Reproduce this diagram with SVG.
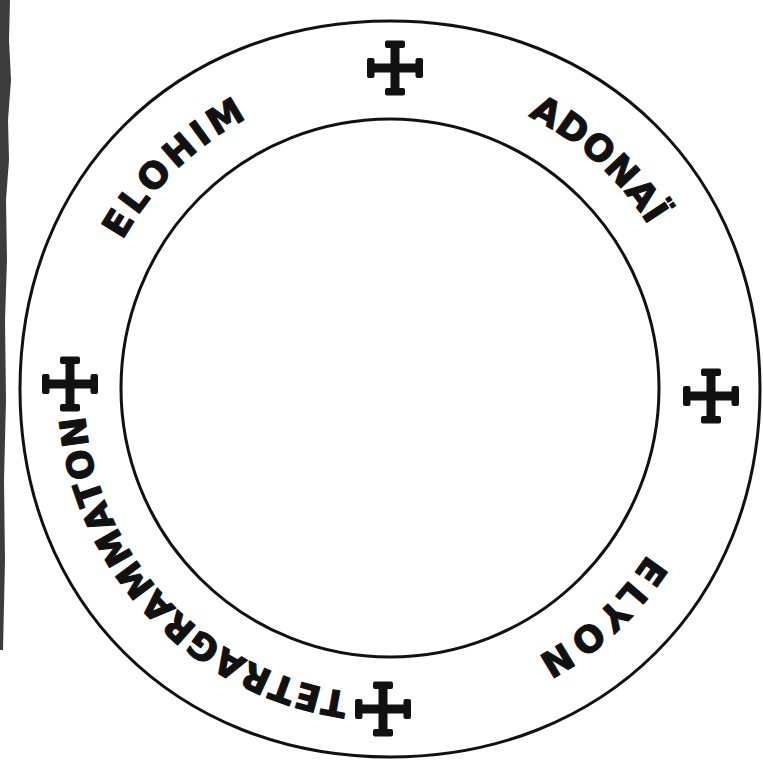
<svg xmlns="http://www.w3.org/2000/svg" xmlns:xlink="http://www.w3.org/1999/xlink" width="763" height="762" viewBox="0 0 763 762">
  <style>
    .ring { fill: none; stroke: #111; stroke-width: 3; }
    .name { font-family: "DejaVu Sans", "Liberation Sans", sans-serif; font-weight: bold; font-size: 36px; fill: #111; stroke: #111; stroke-width: 1.2; stroke-linejoin: round; }
    .cross rect { fill: #111; }
  </style>
  <defs>
    <path id="textCircle" d="M 696 389 A 306 306 0 1 1 84 389 A 306 306 0 1 1 696 389"/>
    <g id="crossShape" class="cross">
      <rect x="-4.5" y="-26" width="9" height="52" rx="1.5"/>
      <rect x="-27" y="-4.5" width="54" height="9" rx="1.5"/>
      <rect x="-10" y="-27.5" width="20" height="7.5" rx="2"/>
      <rect x="-10" y="20" width="20" height="7.5" rx="2"/>
      <rect x="-28" y="-10" width="7.5" height="20" rx="2"/>
      <rect x="20.5" y="-10" width="7.5" height="20" rx="2"/>
    </g>
  </defs>
  <rect width="763" height="762" fill="#ffffff"/>

  <g id="scan-edge">
    <path d="M0 0 L10 0 L9 40 L11 80 L8 120 L9 160 L6 200 L7 260 L5 320 L6 400 L4 480 L5 560 L3 650 L0 650 Z" fill="#1a1a1a" opacity="0.85"/>
  </g>

  <g id="outer-circle">
    <path class="ring" d="M 760 389 C 760 602.4, 604.6 757, 390 757 C 175.4 757, 20 602.4, 20 389 C 20 175.6, 175.4 21, 390 21 C 604.6 21, 760 175.6, 760 389 Z"/>
  </g>
  <g id="inner-circle">
    <circle class="ring" cx="390" cy="388" r="269"/>
  </g>

  <g id="cross-top"><use xlink:href="#crossShape" href="#crossShape" x="395" y="68"/></g>
  <g id="cross-right"><use xlink:href="#crossShape" href="#crossShape" x="711" y="396"/></g>
  <g id="cross-bottom"><use xlink:href="#crossShape" href="#crossShape" x="383" y="709"/></g>
  <g id="cross-left"><use xlink:href="#crossShape" href="#crossShape" x="70" y="384"/></g>

  <g id="label-elyon">
    <text class="name" letter-spacing="6.1"><textPath href="#textCircle" xlink:href="#textCircle" startOffset="253.3" text-anchor="middle">ELYON</textPath></text>
  </g>
  <g id="label-tetragrammaton">
    <text class="name" letter-spacing="1.2"><textPath href="#textCircle" xlink:href="#textCircle" startOffset="728.8" text-anchor="middle">TETRAGRAMMATON</textPath></text>
  </g>
  <g id="label-elohim">
    <text class="name" letter-spacing="4.1"><textPath href="#textCircle" xlink:href="#textCircle" startOffset="1206.4" text-anchor="middle">ELOHIM</textPath></text>
  </g>
  <g id="label-adonai">
    <text class="name" letter-spacing="0.9"><textPath href="#textCircle" xlink:href="#textCircle" startOffset="1667.3" text-anchor="middle">ADONAÏ</textPath></text>
  </g>
</svg>
